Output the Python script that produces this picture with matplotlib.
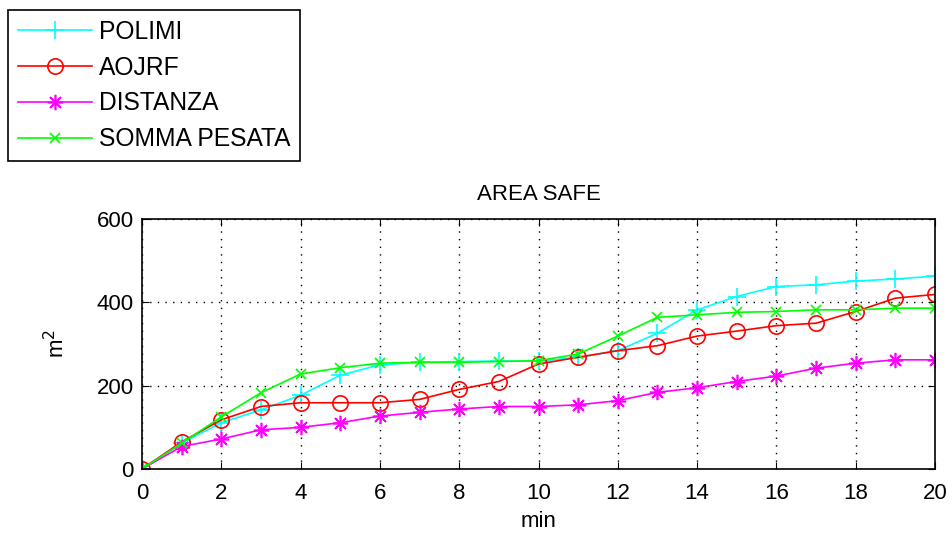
import numpy as np
import matplotlib
matplotlib.use('Agg')
from matplotlib import pyplot as plt

plt.rcParams['font.family'] = ['Liberation Sans', 'DejaVu Sans']

minutes = list(range(0, 21))

# safe area over time for each strategy (m^2)
polimi = [0, 62, 111, 142, 177, 225, 250, 256, 258, 259, 259, 268, 284, 326,
          382, 414, 438, 442, 451, 456, 463]
aojrf = [0, 65, 118, 150, 159, 159, 159, 167, 191, 210, 252, 268, 284, 296,
         319, 331, 344, 350, 378, 410, 419]
distanza = [0, 54, 72, 94, 100, 111, 127, 136, 144, 150, 150, 154, 164, 184,
            195, 210, 223, 242, 254, 262, 262]
somma_pesata = [0, 62, 125, 183, 228, 243, 254, 256, 256, 258, 260, 276, 319, 364,
                370, 376, 378, 382, 382, 386, 386]

series = [('POLIMI', polimi, '#00ffff', '+', 13),
          ('AOJRF', aojrf, '#ff0000', 'o', 11),
          ('DISTANZA', distanza, '#ff00ff', (8, 2, 0), 11),
          ('SOMMA PESATA', somma_pesata, '#00ff00', 'x', 7)]

fig = plt.figure(figsize=(9.48, 5.33), dpi=100)
ax = fig.add_axes([142/948, 64/533, (935-142)/948, (469-219)/533])

for name, vals, col, mk, ms in series:
    ax.plot(minutes, vals, color=col, marker=mk, markersize=ms, markerfacecolor='none',
            markeredgecolor=col, markeredgewidth=1.2, linewidth=1.2, label=name)

ax.set_xlim(0, 20)
ax.set_ylim(0, 600)
ax.set_xticks(np.arange(0, 21, 2))
ax.set_yticks([0, 200, 400, 600])
ax.grid(True, color='black', linestyle=(0, (1, 4.5)), linewidth=1.0)
ax.tick_params(direction='in', top=True, right=True, length=5, labelsize=16,
               color='black')
ax.tick_params(axis='x', pad=10)
ax.tick_params(axis='y', pad=6)
for sp in ax.spines.values():
    sp.set_linewidth(1.2)

ax.set_title('AREA SAFE', fontsize=16, pad=14)
ax.set_xlabel('min', fontsize=16, labelpad=5)
ax.set_ylabel('m$^2$', fontsize=16, labelpad=20)

leg = fig.legend(loc='upper left', bbox_to_anchor=(8/948, 1 - 10/533), borderaxespad=0,
                 fontsize=17.7, handlelength=3.0, labelspacing=0.48, borderpad=0.4,
                 handletextpad=0.3, fancybox=False, edgecolor='black', framealpha=1)
leg.get_frame().set_linewidth(1.2)

fig.savefig('out.png', dpi=100)
